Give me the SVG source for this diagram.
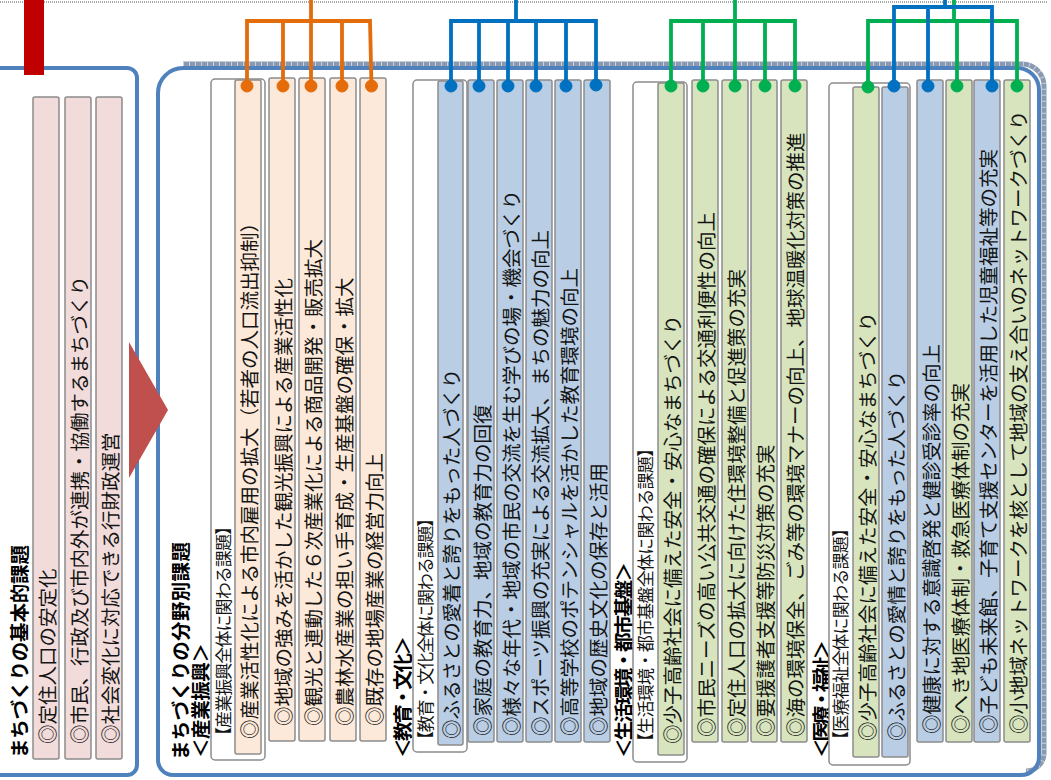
<svg xmlns="http://www.w3.org/2000/svg" width="1051" height="780" viewBox="0 0 1051 780">
<style>
.pk{fill:#F2DCDB;stroke:#8C8C8C;stroke-width:1.5}
.pc{fill:#FDE9D9;stroke:#8C8C8C;stroke-width:1.5}
.bl{fill:#B9CDE5;stroke:#8C8C8C;stroke-width:1.5}
.gr{fill:#D7E4BD;stroke:#8C8C8C;stroke-width:1.5}
.wb{fill:#FFFFFF;stroke:#8C8C8C;stroke-width:1.5}
.t{font-family:"Noto Sans CJK JP","Noto Sans",sans-serif;font-size:19.5px;fill:#141414;dominant-baseline:central}
.s{font-size:17px}
.h{font-weight:bold;font-size:19.5px;fill:#000}
.frame{fill:none;stroke:#4F81BD;stroke-width:4}
.c{fill:none;stroke-width:3.8}
</style>
<rect x="0" y="0" width="1051" height="780" fill="#FFFFFF"/>
<line x1="0" y1="2" x2="1048" y2="2" stroke="#555" stroke-width="1" stroke-dasharray="1 1"/>

<g id="frames">
  <path d="M-10 68 H127 A10 10 0 0 1 137 78 V765 A10 10 0 0 1 127 775 H-10" class="frame"/>
  <g transform="translate(5,-4)">
    <path d="M178 68 H1017 A22 22 0 0 1 1039 90 V757 A18 18 0 0 1 1021 775" fill="none" stroke="#8A9AB2" stroke-width="5"/>
    <path d="M178 68 H1017 A22 22 0 0 1 1039 90 V757 A18 18 0 0 1 1021 775" fill="none" stroke="#C8D1DE" stroke-width="5" stroke-dasharray="1 5"/>
  </g>
  <path d="M183 68 H1017 A22 22 0 0 1 1039 90 V757 A18 18 0 0 1 1021 775 H173 A15 15 0 0 1 158 760 V93 A25 25 0 0 1 183 68 Z" class="frame"/>
  <rect x="24" y="0" width="20" height="75" fill="#C00000"/>
  <polygon points="129,342 168,410 129,478" fill="#C0504D"/>
</g>

<g id="headers">
  <text class="t h" transform="translate(18,758) rotate(-90)" textLength="213" lengthAdjust="spacing">まちづくりの基本的課題</text>
  <text class="t h" transform="translate(179,760) rotate(-90)" textLength="218" lengthAdjust="spacing">まちづくりの分野別課題</text>
  <text class="t h" transform="translate(199,758) rotate(-90)" textLength="115" lengthAdjust="spacing">＜産業振興＞</text>
  <text class="t h" transform="translate(401,758) rotate(-90)" textLength="122" lengthAdjust="spacing">＜教育・文化＞</text>
  <text class="t h" transform="translate(622,758) rotate(-90)" textLength="196" lengthAdjust="spacing">＜生活環境・都市基盤＞</text>
  <text class="t h" transform="translate(820,758) rotate(-90)" textLength="118" lengthAdjust="spacing">＜医療・福祉＞</text>
</g>

<g id="basic-1"><rect class="pk" x="33" y="97" width="26" height="662" rx="2"/><text class="t" transform="translate(46,744) rotate(-90)">◎定住人口の安定化</text></g>
<g id="basic-2"><rect class="pk" x="65" y="97" width="26" height="662" rx="2"/><text class="t" transform="translate(78,744) rotate(-90)">◎市民、行政及び市内外が連携・協働するまちづくり</text></g>
<g id="basic-3"><rect class="pk" x="96" y="97" width="26" height="662" rx="2"/><text class="t" transform="translate(109,744) rotate(-90)">◎社会変化に対応できる行財政運営</text></g>

<g id="ind-box"><rect class="wb" x="211" y="79" width="54" height="681" rx="4"/><text class="t s" transform="translate(222,744) rotate(-90)" textLength="226" lengthAdjust="spacing">【産業振興全体に関わる課題】</text></g>
<g id="ind-1"><rect class="pc" x="235" y="80" width="26" height="674" rx="2"/><text class="t" transform="translate(248,739) rotate(-90)">◎産業活性化による市内雇用の拡大（若者の人口流出抑制）</text></g>
<g id="ind-2"><rect class="pc" x="269" y="78" width="26" height="663" rx="2"/><text class="t" transform="translate(282,726) rotate(-90)">◎地域の強みを活かした観光振興による産業活性化</text></g>
<g id="ind-3"><rect class="pc" x="299" y="78" width="26" height="663" rx="2"/><text class="t" transform="translate(312,726) rotate(-90)">◎観光と連動した６次産業化による商品開発・販売拡大</text></g>
<g id="ind-4"><rect class="pc" x="330" y="78" width="26" height="663" rx="2"/><text class="t" transform="translate(343,726) rotate(-90)">◎農林水産業の担い手育成・生産基盤の確保・拡大</text></g>
<g id="ind-5"><rect class="pc" x="360" y="78" width="26" height="663" rx="2"/><text class="t" transform="translate(373,726) rotate(-90)">◎既存の地場産業の経営力向上</text></g>

<g id="edu-box"><rect class="wb" x="413" y="80" width="54" height="672" rx="4"/><text class="t s" transform="translate(424,748) rotate(-90)" textLength="238" lengthAdjust="spacing">【教育・文化全体に関わる課題】</text></g>
<g id="edu-1"><rect class="bl" x="438" y="81" width="25" height="664" rx="2"/><text class="t" transform="translate(450.5,739) rotate(-90)">◎ふるさとの愛着と誇りをもった人づくり</text></g>
<g id="edu-2"><rect class="bl" x="468" y="80" width="26" height="662" rx="2"/><text class="t" transform="translate(481,736) rotate(-90)">◎家庭の教育力、地域の教育力の回復</text></g>
<g id="edu-3"><rect class="bl" x="497" y="80" width="26" height="662" rx="2"/><text class="t" transform="translate(510,736) rotate(-90)">◎様々な年代・地域の市民の交流を生む学びの場・機会づくり</text></g>
<g id="edu-4"><rect class="bl" x="526" y="80" width="26" height="662" rx="2"/><text class="t" transform="translate(539,736) rotate(-90)">◎スポーツ振興の充実による交流拡大、まちの魅力の向上</text></g>
<g id="edu-5"><rect class="bl" x="555" y="80" width="26" height="662" rx="2"/><text class="t" transform="translate(568,736) rotate(-90)">◎高等学校のポテンシャルを活かした教育環境の向上</text></g>
<g id="edu-6"><rect class="bl" x="584" y="80" width="26" height="662" rx="2"/><text class="t" transform="translate(597,736) rotate(-90)">◎地域の歴史文化の保存と活用</text></g>

<g id="liv-box"><rect class="wb" x="633" y="82" width="54" height="680" rx="4"/><text class="t s" transform="translate(644,750) rotate(-90)" textLength="310" lengthAdjust="spacing">【生活環境・都市基盤全体に関わる課題】</text></g>
<g id="liv-1"><rect class="gr" x="658" y="83" width="26" height="672" rx="2"/><text class="t" transform="translate(671,744) rotate(-90)">◎少子高齢社会に備えた安全・安心なまちづくり</text></g>
<g id="liv-2"><rect class="gr" x="692" y="80" width="26" height="662" rx="2"/><text class="t" transform="translate(705,737) rotate(-90)">◎市民ニーズの高い公共交通の確保による交通利便性の向上</text></g>
<g id="liv-3"><rect class="gr" x="722" y="80" width="26" height="662" rx="2"/><text class="t" transform="translate(735,737) rotate(-90)">◎定住人口の拡大に向けた住環境整備と促進策の充実</text></g>
<g id="liv-4"><rect class="gr" x="751" y="80" width="26" height="662" rx="2"/><text class="t" transform="translate(764,737) rotate(-90)">◎要援護者支援等防災対策の充実</text></g>
<g id="liv-5"><rect class="gr" x="781" y="80" width="26" height="662" rx="2"/><text class="t" transform="translate(794,737) rotate(-90)">◎海の環境保全、ごみ等の環境マナーの向上、地球温暖化対策の推進</text></g>

<g id="med-box"><rect class="wb" x="829" y="83" width="81" height="682" rx="4"/><text class="t s" transform="translate(839,748) rotate(-90)" textLength="228" lengthAdjust="spacing">【医療福祉全体に関わる課題】</text></g>
<g id="med-1"><rect class="gr" x="853" y="87" width="26" height="670" rx="2"/><text class="t" transform="translate(866,741) rotate(-90)">◎少子高齢社会に備えた安全・安心なまちづくり</text></g>
<g id="med-2"><rect class="bl" x="882" y="87" width="26" height="670" rx="2"/><text class="t" transform="translate(895,741) rotate(-90)">◎ふるさとの愛情と誇りをもった人づくり</text></g>
<g id="med-3"><rect class="bl" x="917" y="80" width="26" height="662" rx="2"/><text class="t" transform="translate(930,734) rotate(-90)">◎健康に対する意識啓発と健診受診率の向上</text></g>
<g id="med-4"><rect class="gr" x="946" y="80" width="26" height="662" rx="2"/><text class="t" transform="translate(959,734) rotate(-90)">◎へき地医療体制・救急医療体制の充実</text></g>
<g id="med-5"><rect class="bl" x="974" y="80" width="26" height="662" rx="2"/><text class="t" transform="translate(987,734) rotate(-90)">◎子ども未来館、子育て支援センターを活用した児童福祉等の充実</text></g>
<g id="med-6"><rect class="gr" x="1004" y="80" width="26" height="662" rx="2"/><text class="t" transform="translate(1017,734) rotate(-90)">◎小地域ネットワークを核として地域の支え合いのネットワークづくり</text></g>

<g id="connectors">
  <g stroke="#E46C0A" fill="#E46C0A">
    <path class="c" d="M311 0 V86 M247 86 V21 H370 L371.5 86 M283 21 V86 M342 21 V86"/>
    <circle cx="247" cy="86" r="6"/><circle cx="283" cy="86" r="6"/><circle cx="311" cy="86" r="6"/><circle cx="342" cy="86" r="6"/><circle cx="371.5" cy="86" r="6"/>
  </g>
  <g stroke="#0070C0" fill="#0070C0">
    <path class="c" d="M516 0 V21 M451 86 V21 H596 V85 M479 21 V86 M508 21 V86 M536 21 V86 M566 21 V86"/>
    <circle cx="451" cy="86" r="6"/><circle cx="479" cy="86" r="6"/><circle cx="508" cy="86" r="6"/><circle cx="536" cy="86" r="6"/><circle cx="566" cy="86" r="6"/><circle cx="596" cy="85" r="6"/>
  </g>
  <g stroke="#00B050" fill="#00B050">
    <path class="c" d="M735 0 V86 M671 86 V21 H795 V86 M703 21 V86 M765 21 V86"/>
    <circle cx="671" cy="86" r="6"/><circle cx="703" cy="86" r="6"/><circle cx="735" cy="86" r="6"/><circle cx="765" cy="86" r="6"/><circle cx="795" cy="86" r="6"/>
  </g>
  <g stroke="#00B050" fill="#00B050">
    <path class="c" d="M954 0 V21 M868 87 V21 H1017 V86 M957 21 V86"/>
    <circle cx="868" cy="87" r="6"/><circle cx="957" cy="86" r="6"/><circle cx="1017" cy="86" r="6"/>
  </g>
  <g stroke="#0070C0" fill="#0070C0">
    <path class="c" d="M945 0 V7 M894 86 V7 H992 V86 M928 7 V86"/>
    <circle cx="894" cy="86" r="6"/><circle cx="928" cy="86" r="6"/><circle cx="992" cy="86" r="6"/>
  </g>
</g>
</svg>
